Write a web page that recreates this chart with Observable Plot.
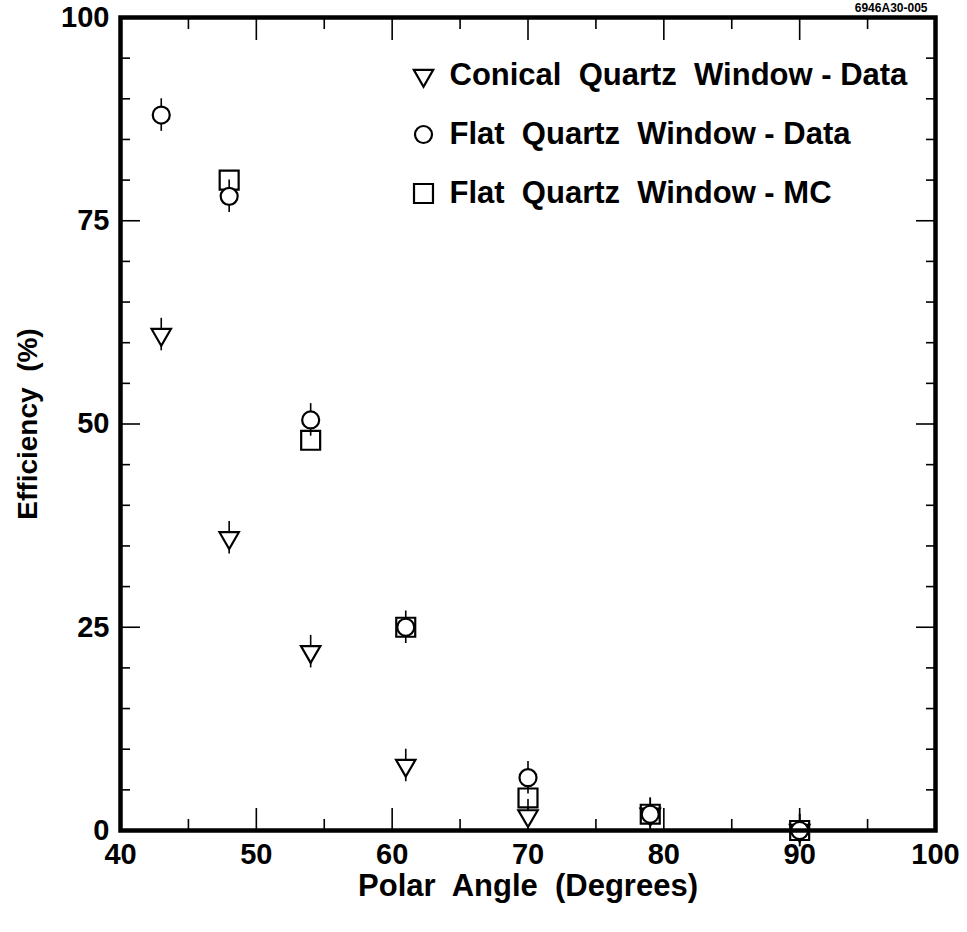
<!DOCTYPE html>
<html>
<head>
<meta charset="utf-8">
<script src="https://cdn.jsdelivr.net/npm/d3@7"></script>
<script src="https://cdn.jsdelivr.net/npm/@observablehq/plot@0.6"></script>
<style>
  html, body { margin: 0; padding: 0; background: #fff; }
</style>
</head>
<body>
<div id="chart"></div>
<script>
// ---- data ----
const angles = [43, 48, 54, 61, 70, 79, 90];
const conicalData = [61, 36, 22, 8, 1.8, 2, 0];
const conicalErr = [2, 2, 2, 2, 2, 2, 2];
const flatData = [88, 78, 50.5, 25, 6.5, 2, 0];
const flatErr = [2, 2, 2, 2, 2, 2, 2];
const mcAngles = [48, 54, 61, 70, 79, 90];
const flatMC = [80, 48, 25, 4, 2, 0];

const seriesNames = ["Conical  Quartz  Window - Data", "Flat  Quartz  Window - Data", "Flat  Quartz  Window - MC"];
const seriesSymbols = ["triangle", "circle", "square"];

const xMajor = [40, 50, 60, 70, 80, 90, 100];
const xMinor = [45, 55, 65, 75, 85, 95];
const yMajor = [0, 25, 50, 75, 100];
const yMinor = [5, 10, 15, 20, 30, 35, 40, 45, 55, 60, 65, 70, 80, 85, 90, 95];
const figCode = "6946A30-005";

// ---- tables ----
const conical = angles.map((a, i) => ({angle: a, eff: conicalData[i], err: conicalErr[i]}));
const flat = angles.map((a, i) => ({angle: a, eff: flatData[i], err: flatErr[i]}));
const mc = mcAngles.map((a, i) => ({angle: a, eff: flatMC[i]}));

const tickFont = 29;
const titleFont = 31;
const yTitleFont = 28;
const legendFont = 31;
const symStyle = {
  triangle: {r: 7.2, rotate: 180},
  circle: {r: 8.5},
  square: {r: 10.7}
};

function tickAxes() {
  const opts = {fill: "none", label: null, stroke: "black", strokeWidth: 1.6};
  return [
    Plot.axisX(xMajor, {...opts, anchor: "bottom", tickSize: -22}),
    Plot.axisX(xMinor, {...opts, anchor: "bottom", tickSize: -11}),
    Plot.axisX(xMajor, {...opts, anchor: "top", tickSize: -22}),
    Plot.axisX(xMinor, {...opts, anchor: "top", tickSize: -11}),
    Plot.axisY(yMajor, {...opts, anchor: "left", tickSize: -20}),
    Plot.axisY(yMinor, {...opts, anchor: "left", tickSize: -10}),
    Plot.axisY(yMajor, {...opts, anchor: "right", tickSize: -20}),
    Plot.axisY(yMinor, {...opts, anchor: "right", tickSize: -10})
  ];
}

const legendMarks = seriesNames.flatMap((name, i) => [
  Plot.dot([name], {
    frameAnchor: "top-left", dx: 303, dy: 58 + i * 59,
    symbol: seriesSymbols[i], ...symStyle[seriesSymbols[i]],
    stroke: "black", strokeWidth: 2.2, fill: "white"
  }),
  Plot.text([name], {
    frameAnchor: "top-left", dx: 329, dy: 58 + i * 59,
    text: d => d, textAnchor: "start", lineAnchor: "middle",
    fontSize: legendFont, fontWeight: "bold", fill: "black"
  })
]);

const chart = Plot.plot({
  width: 967,
  height: 932,
  marginLeft: 120,
  marginRight: 32,
  marginTop: 17,
  marginBottom: 102,
  x: {domain: [40, 100], axis: null},
  y: {domain: [0, 100], axis: null},
  style: {fontFamily: "'Liberation Sans', Arial, sans-serif", fontWeight: "bold", whiteSpace: "pre", background: "white", color: "black", overflow: "visible"},
  marks: [
    ...tickAxes(),
    Plot.axisX(xMajor, {anchor: "bottom", tickSize: 0, tickPadding: 13, fontSize: tickFont, fontWeight: "bold",
      label: null}),
    Plot.axisY(yMajor, {anchor: "left", tickSize: 0, tickPadding: 11, fontSize: tickFont, fontWeight: "bold",
      label: null}),
    Plot.text(["Polar  Angle  (Degrees)"], {frameAnchor: "bottom", dy: 56, text: d => d, textAnchor: "middle", lineAnchor: "middle",
      fontSize: titleFont, fontWeight: "bold", fill: "black"}),
    Plot.text(["Efficiency  (%)"], {frameAnchor: "left", dx: -92, text: d => d, rotate: -90, textAnchor: "middle", lineAnchor: "middle",
      fontSize: yTitleFont, fontWeight: "bold", fill: "black"}),
    // MC squares (hollow)
    Plot.dot(mc, {x: "angle", y: "eff", symbol: "square", ...symStyle.square, stroke: "black", strokeWidth: 2.2, fill: "none"}),
    // error bars
    Plot.ruleX(conical, {x: "angle", y1: d => d.eff - d.err, y2: d => d.eff + d.err, stroke: "black", strokeWidth: 1.6}),
    Plot.ruleX(flat, {x: "angle", y1: d => d.eff - d.err, y2: d => d.eff + d.err, stroke: "black", strokeWidth: 1.6}),
    Plot.dot(conical, {x: "angle", y: "eff", symbol: "triangle", ...symStyle.triangle, stroke: "black", strokeWidth: 2.2, fill: "white"}),
    Plot.dot(flat, {x: "angle", y: "eff", symbol: "circle", ...symStyle.circle, stroke: "black", strokeWidth: 2.2, fill: "white"}),
    ...legendMarks,
    Plot.text([figCode], {frameAnchor: "top-right", dx: -8, dy: -14, text: d => d, textAnchor: "end", lineAnchor: "top", fontSize: 12, fontWeight: "bold", fill: "black"}),
    Plot.frame({stroke: "black", strokeWidth: 4.5})
  ]
});

document.getElementById("chart").appendChild(chart);
</script>
</body>
</html>
